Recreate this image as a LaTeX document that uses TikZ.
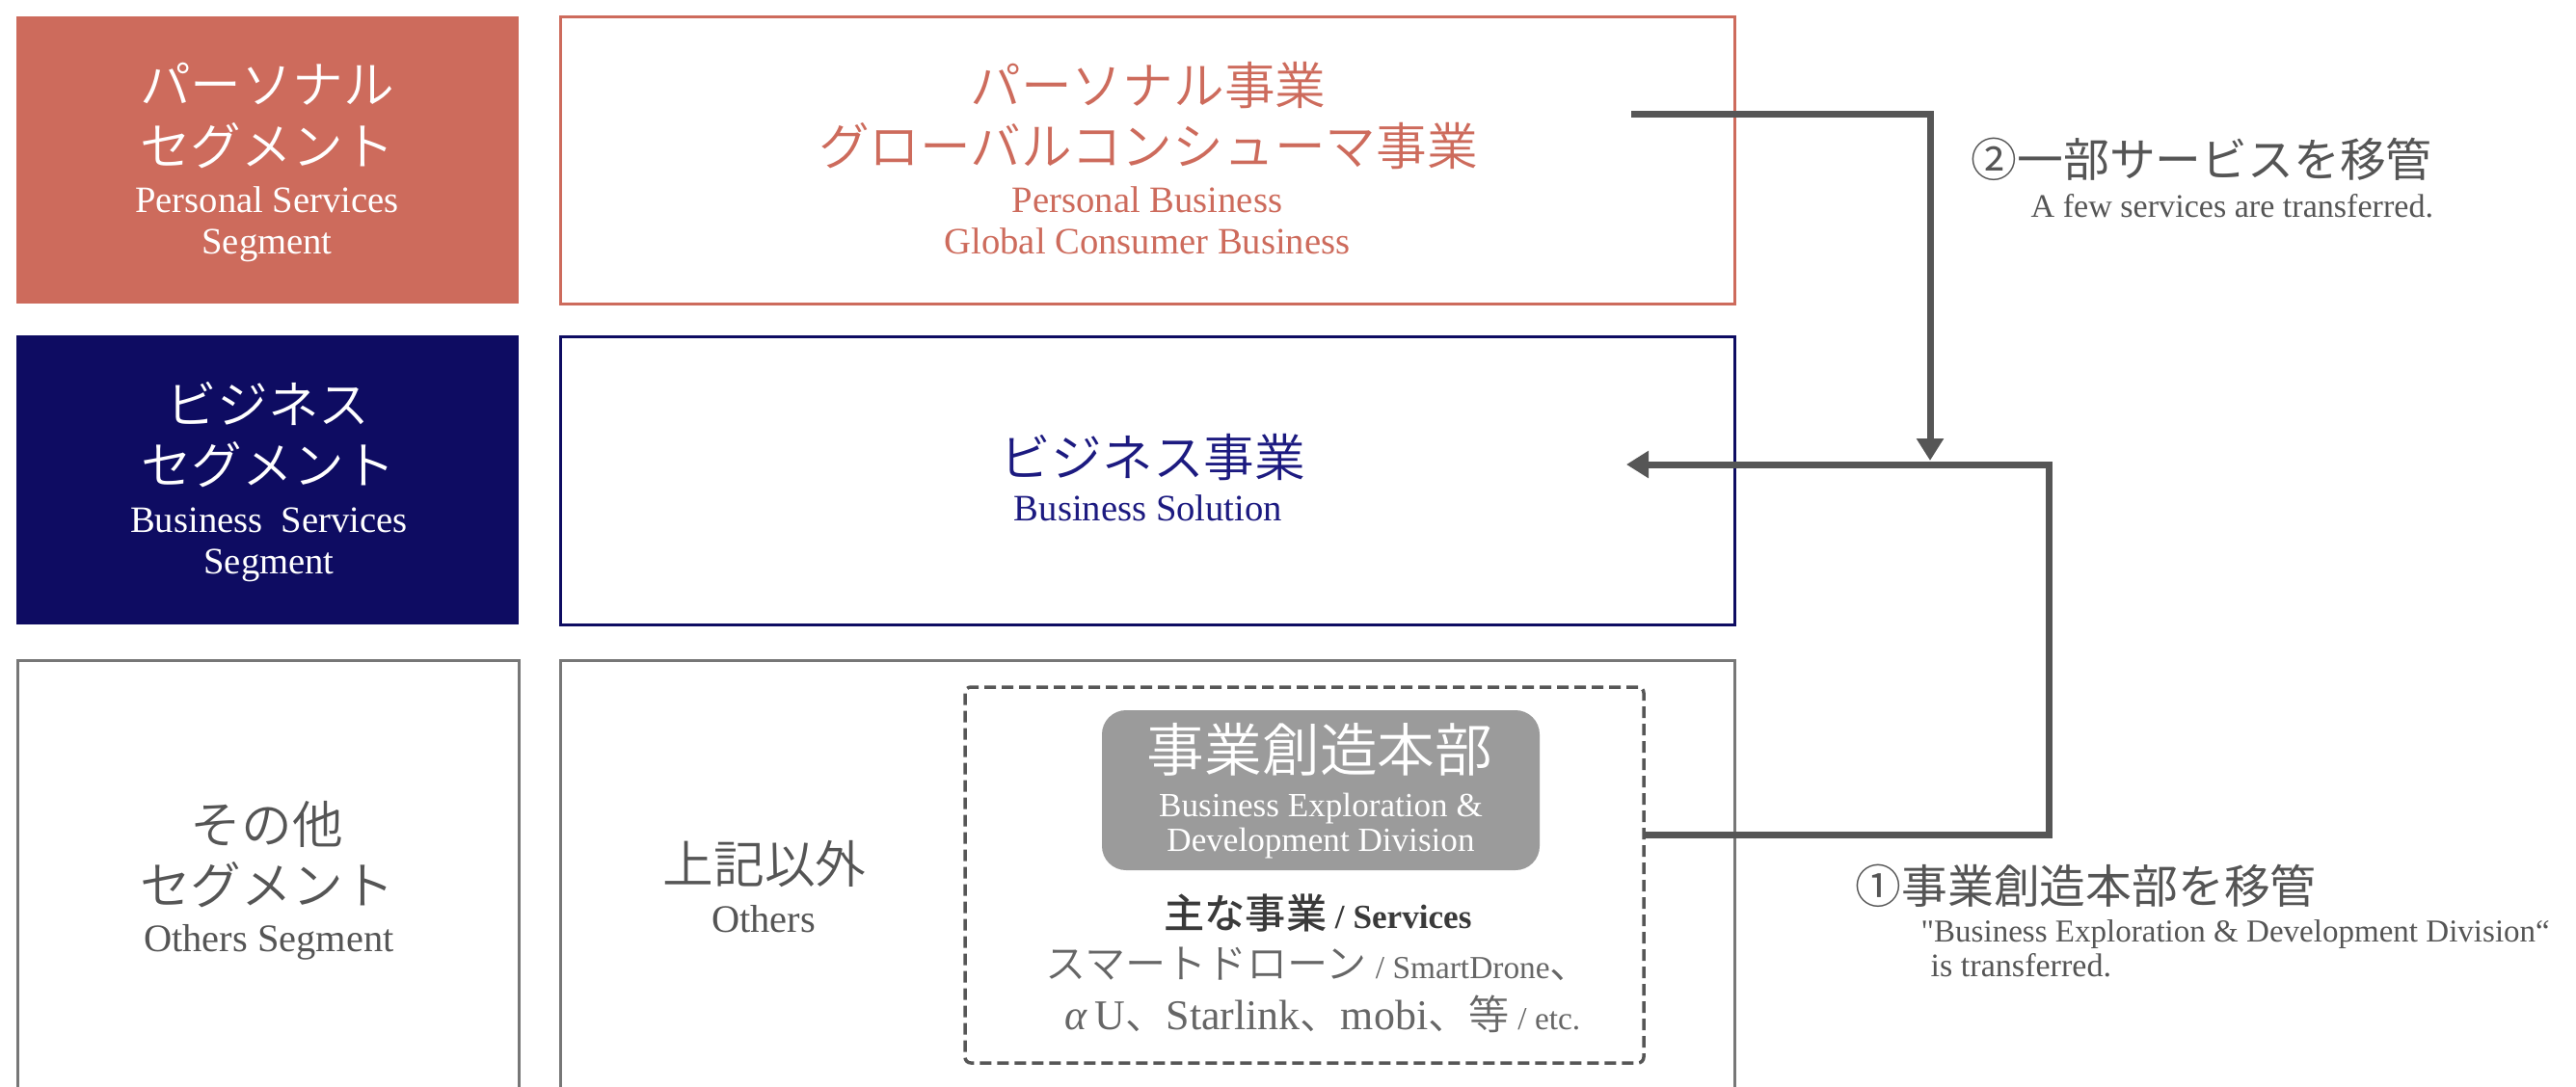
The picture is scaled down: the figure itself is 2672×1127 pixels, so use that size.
\documentclass[tikz,border=0pt]{standalone}
\usepackage{fontspec}
\setmainfont{Liberation Serif}
\newfontfamily\plainserif{Liberation Serif}[Ligatures=TeXOff]
\IfFontExistsTF{Noto Sans CJK JP DemiLight}
  {\newfontfamily\jp{Noto Sans CJK JP DemiLight}}
  {\IfFontExistsTF{Noto Sans CJK JP Light}
    {\newfontfamily\jp{Noto Sans CJK JP Light}}
    {\newfontfamily\jp{Noto Sans CJK JP}}}
\newfontfamily\jpb{Noto Sans CJK JP}
\IfFontExistsTF{Noto Sans CJK JP Medium}
  {\newfontfamily\jpm{Noto Sans CJK JP Medium}}
  {\newfontfamily\jpm{Noto Sans CJK JP}}
\usetikzlibrary{arrows.meta}
\definecolor{coral}{HTML}{CD6B5C}
\definecolor{navy}{HTML}{0E0C62}
\definecolor{navytxt}{HTML}{1C1A80}
\definecolor{boxgray}{HTML}{777777}
\definecolor{txtgray}{HTML}{555555}
\definecolor{darktxt}{HTML}{3A3A3A}
\definecolor{lighttxt}{HTML}{666666}
\definecolor{pillgray}{HTML}{9B9B9B}
\definecolor{arrowgray}{HTML}{565656}
\begin{document}
\begin{tikzpicture}[x=0.1mm,y=-0.1mm,
  panel/.style={rectangle, anchor=north west, inner sep=0pt, outer sep=0pt, line width=0.3mm},
  jpblk/.style={align=center, inner sep=0pt, font=\jp\fontsize{15}{18}\selectfont},
  enblk/.style={align=center, inner sep=0pt, font=\fontsize{11}{12.2}\selectfont},
  enone/.style={inner sep=0pt, anchor=base, font=\fontsize{11}{13}\selectfont},
  lbljp/.style={anchor=base west, inner sep=0pt, text=txtgray, font=\jpb\fontsize{13.6}{16}\selectfont},
  lblen/.style={anchor=base west, inner sep=0pt, text=txtgray, font=\fontsize{9.7}{12}\selectfont},
  svcline/.style={anchor=base, inner sep=0pt},
  flow/.style={draw=arrowgray, line width=0.7mm, -{Triangle[width=2.7mm,length=2.3mm]}}
]
\useasboundingbox (0,0) rectangle (2672,1127);
\clip (0,0) rectangle (2672,1127);

% boxes
\node[panel, fill=coral, minimum width=52.1mm, minimum height=29.8mm] (segP) at (17,17) {};
\node[panel, draw=coral, minimum width=121.9mm, minimum height=29.8mm] (busP) at (581,17) {};
\node[panel, fill=navy, minimum width=52.1mm, minimum height=30mm] (segB) at (17,348) {};
\node[panel, draw=navy, minimum width=121.9mm, minimum height=29.9mm] (busB) at (581,349) {};
\node[panel, draw=boxgray, minimum width=52.1mm, minimum height=46mm] (segO) at (18,685) {};
\node[panel, draw=boxgray, minimum width=121.9mm, minimum height=46mm] (busO) at (581,685) {};
\node[panel, draw=arrowgray, line width=0.35mm, dash pattern=on 1.2mm off 0.6mm, rounded corners=0.6mm,
      minimum width=70.4mm, minimum height=39mm] (grp) at (1001,713) {};
\node[panel, fill=pillgray, rounded corners=2.5mm, minimum width=45.4mm, minimum height=16.6mm] (pill) at (1143,737) {};

% texts in boxes
\node[jpblk, text=white] (segPj) at (277,120) {パーソナル\\セグメント};
\node[enblk, text=white] (segPe) at (277,233) {Personal Services\\Segment};
\node[jpblk, text=coral] (busPj) at (1191,120) {パーソナル事業\\グローバルコンシューマ事業};
\node[enblk, text=coral] (busPe) at (1190,229) {Personal Business\\Global Consumer Business};

\node[jpblk, text=white] (segBj) at (278,451) {ビジネス\\セグメント};
\node[enblk, text=white] (segBe) at (279,565) {Business\ \ Services\\Segment};
\node[jpblk, text=navytxt] (busBj) at (1196,475) {ビジネス事業};
\node[enone, text=navytxt] (busBe) at (1191,540) {Business Solution};

\node[jpblk, text=txtgray] (segOj) at (277,887) {その他\\セグメント};
\node[enone, text=txtgray, font=\fontsize{11.5}{13}\selectfont] (segOe) at (279,987) {Others Segment};
\node[jpblk, text=txtgray] (busOj) at (793,897) {上記以外};
\node[enone, text=txtgray, font=\fontsize{11.5}{13}\selectfont] (busOe) at (792,967) {Others};

\node[inner sep=0pt, text=white, font=\jp\fontsize{17}{20}\selectfont] (pillj) at (1369,778) {事業創造本部};
\node[align=center, inner sep=0pt, text=white, font=\fontsize{10}{10.2}\selectfont] (pille) at (1370,857) {Business Exploration \&\\Development Division};

\node[svcline, text=darktxt, font=\fontsize{10}{12}\selectfont] (svc0) at (1367,963)
  {{\jpm\fontsize{12}{14}\selectfont 主な事業} \textbf{/ Services}};
\node[svcline, text=lighttxt] (svc1) at (1367,1015)
  {{\jp\fontsize{12}{14}\selectfont スマートドローン} {\fontsize{9.5}{11}\selectfont / SmartDrone}{\jp\fontsize{12}{14}\selectfont 、}};
\node[svcline, text=lighttxt] (svc2) at (1372,1068)
  {{\fontsize{12.5}{14}\selectfont\textit{α}\,U{\jp\fontsize{12}{14}\selectfont 、}Starlink{\jp\fontsize{12}{14}\selectfont 、}mobi{\jp\fontsize{12}{14}\selectfont 、等}} {\fontsize{9.5}{11}\selectfont / etc.}};

% right labels
\node[lbljp] (lab2) at (2044,183) {②一部サービスを移管};
\node[lblen] (lab2e) at (2106,225) {A few services are transferred.};
\node[lbljp] (lab1) at (1924,937) {①事業創造本部を移管};
\node[lblen, font=\plainserif\fontsize{9.4}{12}\selectfont] (lab1e) at (1992,977) {"Business Exploration \& Development Division“};
\node[lblen] (lab1f) at (2002,1013) {is transferred.};

% connectors
\coordinate (a2s) at (1692,118);
\coordinate (a2e) at (2002,478);
\coordinate (a1s) at (1705,866);
\coordinate (a1c) at (2125,482);
\coordinate (a1e) at (1687,482);
\draw[flow] (a2s) -| (a2e);
\draw[flow] (a1s) -| (a1c) -- (a1e);
\end{tikzpicture}
\end{document}
